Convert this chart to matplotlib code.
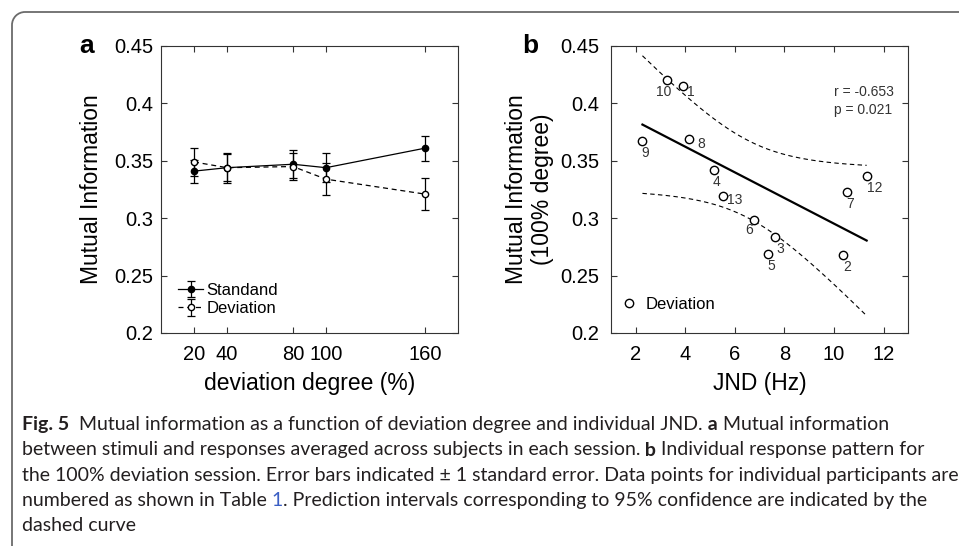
import numpy as np
import matplotlib
matplotlib.use('Agg')
import matplotlib.pyplot as plt
from matplotlib.patches import Arc

plt.rcParams['font.family'] = ['Liberation Sans', 'DejaVu Sans']

# ---- panel a: mean MI per session
degree = [20, 40, 80, 100, 160]
mi_std = [0.341, 0.344, 0.347, 0.344, 0.361]
se_std = [0.010, 0.012, 0.012, 0.0125, 0.011]
mi_dev = [0.349, 0.344, 0.345, 0.334, 0.321]
se_dev = [0.012, 0.013, 0.012, 0.014, 0.0137]

# ---- panel b: individual subjects, 100% session
subj = ['10', '1', '8', '9', '4', '13', '6', '3', '5', '2', '7', '12']
jnd = [3.25, 3.91, 4.16, 2.28, 5.15, 5.52, 6.78, 7.62, 7.33, 10.38, 10.51, 11.32]
mi100 = [0.420, 0.415, 0.369, 0.367, 0.342, 0.319, 0.298, 0.284, 0.269, 0.268, 0.3225, 0.337]

yticks = [0.2, 0.25, 0.3, 0.35, 0.4, 0.45]
ytlabels = ['0.2', '0.25', '0.3', '0.35', '0.4', '0.45']

# label offsets in pixels (layout only)
lab_off = [(-3, -12), (8, -6), (12, -5), (3, -12), (3, -12), (12, -4),
           (-5, -10), (5, -12), (4, -12), (4, -12), (4, -12), (8, -12)]

fig = plt.figure(figsize=(9.59, 5.46), dpi=100)

# background layer in pixel units: frame + caption
bg = fig.add_axes([0, 0, 1, 1], zorder=-1)
bg.set_xlim(0, 959)
bg.set_ylim(546, 0)
bg.axis('off')
fc = '#6b6b6b'
bg.plot([25, 970], [12, 12], color=fc, lw=1.3, solid_capstyle='butt')
bg.plot([12, 12], [25, 560], color=fc, lw=1.3, solid_capstyle='butt')
bg.add_patch(Arc((25, 25), 26, 26, theta1=180, theta2=270, color=fc, lw=1.3))


def style_ax(ax, pad):
    for s in ax.spines.values():
        s.set_color('#333333')
        s.set_linewidth(0.8)
    ax.tick_params(direction='in', top=True, right=True, length=4, width=0.8,
                   labelsize=14.5, color='#333333')
    ax.tick_params(axis='y', pad=pad)
    ax.tick_params(axis='x', pad=8.5)
    ax.set_ylim(0.2, 0.45)
    ax.set_yticks(yticks)
    ax.set_yticklabels(ytlabels)


# ---- a
ax1 = fig.add_axes([161 / 959, 213 / 546, 297 / 959, 287 / 546])
style_ax(ax1, 5.5)
e1 = ax1.errorbar(degree, mi_std, yerr=se_std, fmt='-o', color='black', mfc='black',
                  ms=4.5, lw=0.9, elinewidth=0.9, capsize=3, capthick=0.9, label='Standand')
e2 = ax1.errorbar(degree, mi_dev, yerr=se_dev, fmt='--o', color='black', mfc='white',
                  ms=4.5, lw=0.9, elinewidth=0.9, capsize=3, capthick=0.9, label='Deviation',
                  dashes=(4, 3))
ax1.set_xlim(0, 180)
ax1.set_xticks(degree)
ax1.set_xlabel('deviation degree (%)', fontsize=16.5, labelpad=6)
ax1.set_ylabel('Mutual Information', fontsize=16.5, labelpad=8)
ax1.legend(loc='lower left', bbox_to_anchor=(0.03, 0.03), frameon=False, fontsize=12,
           handlelength=1.5, handletextpad=0.2, borderpad=0, labelspacing=0.2)
ax1.text(-0.25, 1.0, 'a', transform=ax1.transAxes, fontsize=19, fontweight='bold',
         ha='center', va='center')

# ---- b
ax2 = fig.add_axes([610.7 / 959, 213 / 546, 297.6 / 959, 287 / 546])
style_ax(ax2, 8)
x = np.array(jnd)
y = np.array(mi100)
n = len(x)
b1, b0 = np.polyfit(x, y, 1)
xs = np.linspace(x.min(), x.max(), 200)
fit = b0 + b1 * xs
s = np.sqrt(np.sum((y - (b0 + b1 * x)) ** 2) / (n - 2))
sxx = np.sum((x - x.mean()) ** 2)
crit = np.sqrt(2 * 4.1028)  # simultaneous band, F(0.95; 2, 10)
half = crit * s * np.sqrt(1.0 / n + (xs - x.mean()) ** 2 / sxx)
ax2.plot(xs, fit, color='black', lw=1.6)
ax2.plot(xs, fit + half, color='black', lw=0.8, dashes=(4, 3))
ax2.plot(xs, fit - half, color='black', lw=0.8, dashes=(4, 3))
ax2.plot(jnd, mi100, 'o', mfc='white', mec='black', ms=6, mew=1.0, label='Deviation')
for lab, xi, yi, off in zip(subj, jnd, mi100, lab_off):
    ax2.annotate(lab, (xi, yi), xytext=off, textcoords='offset pixels', fontsize=10,
                 color='#333333', ha='center', va='center')
ax2.set_xlim(1, 13)
ax2.set_xticks([2, 4, 6, 8, 10, 12])
ax2.set_xlabel('JND (Hz)', fontsize=16.5, labelpad=6)
ax2.set_ylabel('Mutual Information\n(100% degree)', fontsize=16.5, labelpad=5,
               linespacing=1.15)
ax2.legend(loc='lower left', bbox_to_anchor=(0.01, 0.045), frameon=False, fontsize=12,
           handlelength=0.8, handletextpad=0.6, borderpad=0)
ax2.text(0.75, 0.865, 'r = -0.653\np = 0.021', transform=ax2.transAxes, fontsize=10,
         ha='left', va='top', color='#333333', linespacing=1.35)
ax2.text(-0.27, 1.0, 'b', transform=ax2.transAxes, fontsize=19, fontweight='bold',
         ha='center', va='center')

# ---- caption
cap_font = ['Lato', 'DejaVu Sans']
cap_size = 14.0
cap_col = '#231f20'
caption = [
    [('Fig. 5', 'bold', cap_col),
     ('  Mutual information as a function of deviation degree and individual JND.', 'normal', cap_col),
     (' a', 'bold', cap_col), (' Mutual information', 'normal', cap_col)],
    [('between stimuli and responses averaged across subjects in each session.', 'normal', cap_col),
     (' b', 'bold', cap_col), (' Individual response pattern for', 'normal', cap_col)],
    [('the 100% deviation session. Error bars indicated \u00b1 1 standard error. '
      'Data points for individual participants are', 'normal', cap_col)],
    [('numbered as shown in Table', 'normal', cap_col), (' 1', 'normal', '#3b5fc4'),
     ('. Prediction intervals corresponding to 95% confidence are indicated by the', 'normal', cap_col)],
    [('dashed curve', 'normal', cap_col)],
]
baselines = [430, 455.5, 481, 506, 531]
renderer = fig.canvas.get_renderer()
for line, yb in zip(caption, baselines):
    xp = 22
    for txt, wt, col in line:
        t = bg.text(xp, yb, txt, family=cap_font, fontsize=cap_size, fontweight=wt,
                    color=col, ha='left', va='baseline')
        xp = t.get_window_extent(renderer).x1

fig.savefig('out.png', dpi=100)
